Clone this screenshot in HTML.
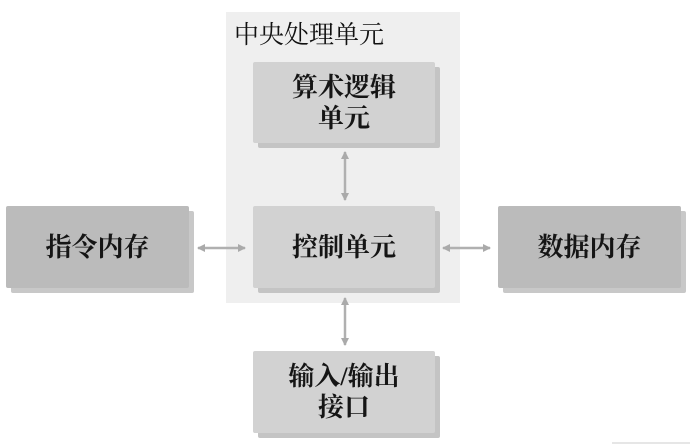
<!DOCTYPE html>
<html><head><meta charset="utf-8"><style>
body{margin:0;width:696px;height:445px;background:#fff;position:relative;overflow:hidden;font-family:"Liberation Serif","Noto Serif CJK SC","Noto Sans CJK SC",serif;}
.bg{position:absolute;left:226px;top:12px;width:234px;height:291px;background:#efefef;}
.t{position:absolute;left:234px;top:15px;font-size:25px;color:#111;}
.b{position:absolute;display:flex;align-items:center;justify-content:center;text-align:center;font-size:26px;line-height:31px;color:#151515;border-radius:2px;font-weight:bold;}
.l{background:#d2d2d2;box-shadow:5px 5px 0 #c4c4c4;}
.d{background:#bbbbbb;box-shadow:5px 5px 0 #c8c8c8;}
svg{position:absolute;left:0;top:0;}
</style></head><body>
<div class="bg"></div>
<div class="t">中央处理单元</div>
<div class="b l" style="left:253px;top:62px;width:182px;height:81px;">算术逻辑<br>单元</div>
<div class="b l" style="left:253px;top:206px;width:182px;height:82px;">控制单元</div>
<div class="b d" style="left:6px;top:206px;width:183px;height:82px;">指令内存</div>
<div class="b d" style="left:498px;top:206px;width:183px;height:82px;">数据内存</div>
<div class="b l" style="left:253px;top:351px;width:182px;height:82px;">输入/输出<br>接口</div>
<svg width="696" height="445">
<defs><marker id="a" markerWidth="8" markerHeight="8" refX="7" refY="4" orient="auto-start-reverse" markerUnits="userSpaceOnUse"><path d="M0,0 L8,4 L0,8 Z" fill="#aaa"/></marker></defs>
<g stroke="#b0b0b0" stroke-width="2.5" fill="none">
<line x1="345" y1="152" x2="345" y2="200" marker-start="url(#a)" marker-end="url(#a)"/>
<line x1="198" y1="248" x2="245" y2="248" marker-start="url(#a)" marker-end="url(#a)"/>
<line x1="443" y1="248" x2="490" y2="248" marker-start="url(#a)" marker-end="url(#a)"/>
<line x1="345" y1="298" x2="345" y2="345" marker-start="url(#a)" marker-end="url(#a)"/>
</g>
<line x1="612" y1="443" x2="690" y2="443" stroke="#ccc" stroke-width="1"/>
</svg>
</body></html>
